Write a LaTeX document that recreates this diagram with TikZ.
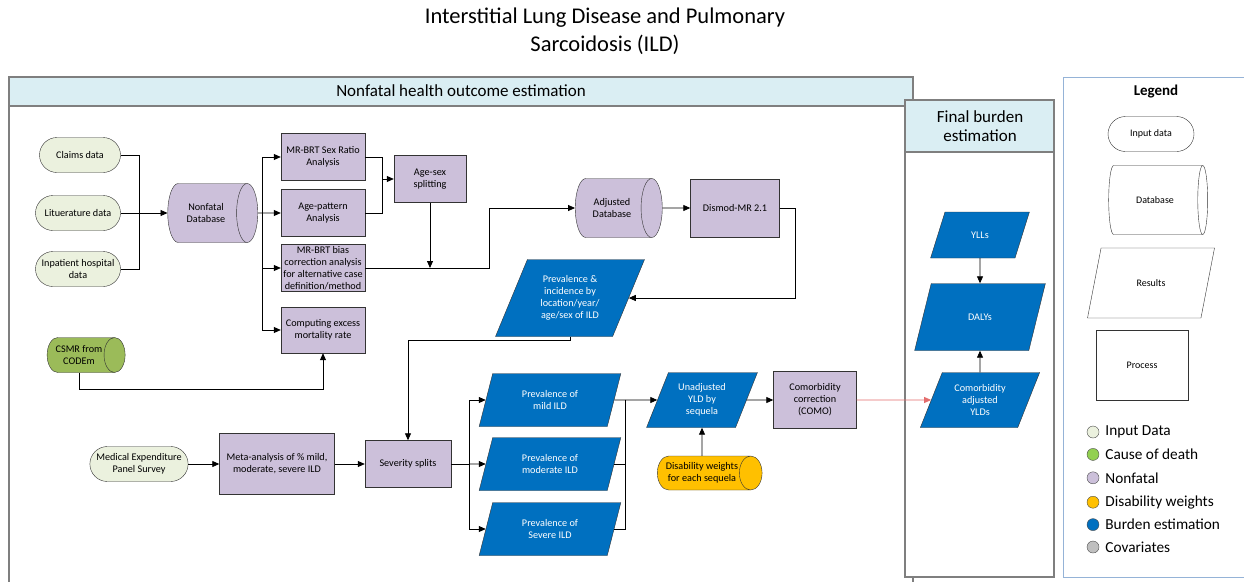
\documentclass[tikz,border=0pt]{standalone}
\usepackage{fontspec}
\setmainfont{Carlito}
\usetikzlibrary{arrows.meta,positioning,shapes.geometric,shapes.misc,calc}
\definecolor{inputgreen}{HTML}{EBF1DE}
\definecolor{codgreen}{HTML}{9BBB59}
\definecolor{codkey}{HTML}{92D050}
\definecolor{nonfatal}{HTML}{CCC0DA}
\definecolor{dwyellow}{HTML}{FFC000}
\definecolor{burdenblue}{HTML}{0070C0}
\definecolor{covgray}{HTML}{BFBFBF}
\definecolor{headblue}{HTML}{DAEEF3}
\definecolor{framegray}{HTML}{7F7F7F}
\definecolor{legendframe}{HTML}{95B3D7}
\definecolor{comored}{HTML}{E46C6C}
\newcommand{\ildtxt}{\fontsize{10.2}{12}\selectfont}
\newcommand{\ildkeytxt}{\fontsize{10}{12}\selectfont}
\tikzset{
  ild/input/.style={draw=black!80, rounded rectangle, fill=inputgreen, align=center, font=\ildtxt, inner xsep=3pt, inner ysep=1pt},
  ild/db/.style={draw=black!80, cylinder, shape aspect=1.0, fill=nonfatal, align=center, font=\ildtxt, inner sep=1pt},
  ild/proc/.style={draw=black!80, rectangle, fill=nonfatal, align=center, font=\ildtxt, inner sep=1pt},
  ild/result/.style={draw=black!80, trapezium, trapezium left angle=65, trapezium right angle=115, trapezium stretches=true, fill=burdenblue, text=white, align=center, font=\ildtxt, inner sep=1pt},
  ild/arr/.style={-{Triangle[length=7pt,width=6pt]}, black, line width=0.8pt},
  ild/line/.style={black, line width=0.8pt},
  ild/panel/.style={draw=framegray, line width=1.3pt},
  ild/head/.style={draw=framegray, line width=1.3pt, fill=headblue},
  ild/key/.style={circle, draw=black!70, minimum size=12pt, inner sep=0pt},
  ild/keytext/.style={anchor=west, font=\fontsize{15.3}{17}\selectfont, inner sep=0pt}
}

\begin{document}
\begin{tikzpicture}[x=1pt, y=-1pt]
\useasboundingbox (0,0) rectangle (1244,581);

% title
\node[font=\fontsize{22.5}{28}\selectfont, align=center] (title) at (605,31) {Interstitial Lung Disease and Pulmonary\\Sarcoidosis (ILD)};

% panels
\draw[ild/panel] (9,77) rectangle (913,590);
\draw[ild/head] (9,77) rectangle (913,106);
\node[font=\fontsize{17}{19}\selectfont] (nfhead) at (461,91) {Nonfatal health outcome estimation};
\draw[ild/panel, fill=white] (905,100) rectangle (1054,577);
\draw[ild/head] (905,100) rectangle (1054,152);
\node[font=\fontsize{17}{19}\selectfont, align=center] (fbhead) at (980,126) {Final burden\\estimation};
\draw[draw=legendframe, line width=1pt] (1063,77) rectangle (1250,577);
\node[font=\bfseries\fontsize{15}{17}\selectfont] (leghead) at (1156,92) {Legend};

% inputs and database
\node[ild/input, minimum width=87pt, minimum height=35pt] (claims) at (80,155) {Claims data};
\node[ild/input, minimum width=91pt, minimum height=35pt] (litdata) at (78,213) {Lituerature data};
\node[ild/input, minimum width=91pt, minimum height=35pt] (inpat) at (78,269) {Inpatient hospital\\data};
\node[ild/db, minimum width=59pt, minimum height=90pt] (nfdb) at (206,213) {Nonfatal\\Database};

\node[ild/proc, minimum width=84pt, minimum height=47pt] (sexratio) at (323,157) {MR-BRT Sex Ratio\\Analysis};
\node[ild/proc, minimum width=84pt, minimum height=47pt] (agepat) at (323,213) {Age-pattern\\Analysis};
\node[ild/proc, minimum width=84pt, minimum height=47pt] (bias) at (323,268) {MR-BRT bias\\correction analysis\\for alternative case\\definition/method};
\node[ild/proc, minimum width=84pt, minimum height=46pt] (excess) at (323,330) {Computing excess\\mortality rate};
\node[ild/proc, minimum width=72pt, minimum height=47pt] (agesex) at (430,179) {Age-sex\\splitting};

\node[ild/db, minimum width=59pt, minimum height=87pt] (adjdb) at (612,208) {Adjusted\\Database};
\node[ild/proc, minimum width=89pt, minimum height=58pt] (dismod) at (735,208) {Dismod-MR 2.1};
\node[ild/result, trapezium left angle=64, trapezium right angle=116, minimum width=149pt, minimum height=77pt] (previnc) at (570,298) {Prevalence \&\\incidence by\\location/year/\\age/sex of ILD};

\node[ild/db, fill=codgreen, minimum width=35pt, minimum height=78pt] (csmr) at (79,355) {CSMR from\\CODEm};

% severity
\node[ild/input, minimum width=98pt, minimum height=35pt] (meps) at (139,464) {Medical Expenditure\\Panel Survey};
\node[ild/proc, minimum width=115pt, minimum height=61pt] (meta) at (277,464) {Meta-analysis of \% mild,\\moderate, severe ILD};
\node[ild/proc, minimum width=86pt, minimum height=47pt] (sevsplit) at (408,464) {Severity splits};
\node[ild/result, trapezium left angle=72, trapezium right angle=108, minimum width=142pt, minimum height=53pt] (mild) at (550,400) {Prevalence of\\mild ILD};
\node[ild/result, trapezium left angle=72, trapezium right angle=108, minimum width=142pt, minimum height=53pt] (moderate) at (550,464) {Prevalence of\\moderate ILD};
\node[ild/result, trapezium left angle=72, trapezium right angle=108, minimum width=142pt, minimum height=53pt] (severe) at (550,529) {Prevalence of\\Severe ILD};

\node[ild/result, minimum width=111pt, minimum height=55pt] (unadj) at (702,400) {Unadjusted\\YLD by\\sequela};
\node[ild/db, fill=dwyellow, minimum width=34pt, minimum height=99pt] (dw) at (702,473) {Disability weights\\for each sequela};
\node[ild/proc, minimum width=83pt, minimum height=57pt] (como) at (815,400) {Comorbidity\\correction\\(COMO)};

% final burden
\node[ild/result, minimum width=99pt, minimum height=46pt] (ylls) at (980,235) {YLLs};
\node[ild/result, trapezium left angle=63, trapezium right angle=117, minimum width=131pt, minimum height=67pt] (dalys) at (980,317) {DALYs};
\node[ild/result, minimum width=120pt, minimum height=55pt] (comoadj) at (980,400) {Comorbidity\\adjusted\\YLDs};

% connectors
\coordinate (merge) at (139,213);
\draw[ild/line] (claims.east) -| (merge);
\draw[ild/line] (inpat.east) -| (merge);
\draw[ild/line] (litdata.east) -- (merge);
\draw[ild/arr] (merge) -- (nfdb.west);

\coordinate (split) at (262,213);
\draw[ild/arr] (nfdb.east) -- (agepat.west);
\draw[ild/arr] (split) |- (sexratio.west);
\draw[ild/arr] (split) |- (bias.west);
\draw[ild/arr] (split) |- (excess.west);

\coordinate (join) at (382,179);
\draw[ild/line] (sexratio.east) -| (join);
\draw[ild/line] (agepat.east) -| (join);
\draw[ild/arr] (join) -- (agesex.west);

\coordinate (bend) at (489,268);
\draw[ild/arr] (bias.east) -- (bend) |- (adjdb.west);
\draw[ild/arr] (agesex.south) -- (agesex.south |- bend);
\draw[ild/arr] (adjdb.east) -- (dismod.west);
\draw[ild/arr] (dismod.east) -- ++(16,0) |- (previnc.east);
\draw[ild/arr] (previnc.south) -- ++(0,4) -| (sevsplit.north);
\draw[ild/arr] (csmr.south) -- ++(0,17) -| (excess.south);

\draw[ild/arr] (meps.east) -- (meta.west);
\draw[ild/arr] (meta.east) -- (sevsplit.west);
\coordinate (fork) at (469,464);
\draw[ild/line] (sevsplit.east) -- (fork);
\draw[ild/arr] (fork) |- (mild.west);
\draw[ild/arr] (fork) -- (moderate.west);
\draw[ild/arr] (fork) |- (severe.west);

\coordinate (gather) at (625,400);
\draw[ild/line] (mild.east) -- (gather);
\draw[ild/line] (moderate.east) -| (gather);
\draw[ild/line] (severe.east) -| (gather);
\draw[ild/arr] (gather) -- (unadj.west);
\draw[ild/arr] (dw.north) -- (unadj.south);
\draw[ild/arr] (unadj.east) -- (como.west);
\draw[ild/arr, comored] (como.east) -- (comoadj.west);

\draw[ild/arr] (ylls.south) -- (dalys.north);
\draw[ild/arr] (comoadj.north) -- (dalys.south);

% legend
\node[ild/input, fill=white, font=\ildkeytxt, minimum width=92pt, minimum height=35pt] (keyin) at (1151,134) {Input data};
\node[ild/db, fill=white, font=\ildkeytxt, shape aspect=1.1, minimum width=69pt, minimum height=99pt] (keydb) at (1155,200) {Database};
\node[ild/result, fill=white, text=black, font=\ildkeytxt, minimum width=127pt, minimum height=70pt] (keyres) at (1151,283) {Results};
\node[ild/proc, fill=white, font=\ildkeytxt, minimum width=92pt, minimum height=70pt] (keyproc) at (1142,365) {Process};

\node[ild/key, fill=inputgreen] (k1) at (1093,432) {};
\node[ild/key, fill=codkey, below=10pt of k1] (k2) {};
\node[ild/key, fill=nonfatal, below=11pt of k2] (k3) {};
\node[ild/key, fill=dwyellow, below=12pt of k3] (k4) {};
\node[ild/key, fill=burdenblue, below=10pt of k4] (k5) {};
\node[ild/key, fill=covgray, below=10pt of k5] (k6) {};
\node[ild/keytext, right=6pt of k1] {Input Data};
\node[ild/keytext, right=6pt of k2] {Cause of death};
\node[ild/keytext, right=6pt of k3] {Nonfatal};
\node[ild/keytext, right=6pt of k4] {Disability weights};
\node[ild/keytext, right=6pt of k5] {Burden estimation};
\node[ild/keytext, right=6pt of k6] {Covariates};
\end{tikzpicture}
\end{document}
